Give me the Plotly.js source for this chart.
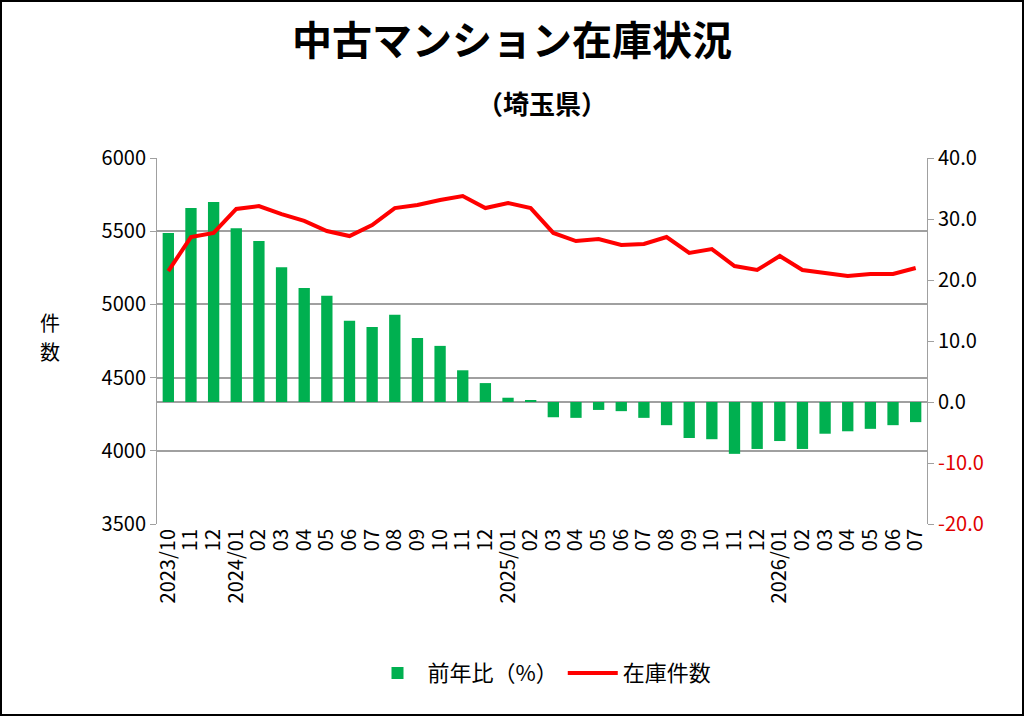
<!DOCTYPE html>
<html>
<head>
<meta charset="utf-8">
<script src="https://cdn.plot.ly/plotly-3.0.1.min.js"></script>
<style>
  html, body { margin: 0; padding: 0; background: #fff; }
  #chart { width: 1024px; height: 716px; box-sizing: border-box; border: 2px solid #000; }
</style>
</head>
<body>
<div id="chart"></div>
<script>
// 月ラベル
const months = ['2023/10','11','12','2024/01','02','03','04','05','06','07','08','09','10','11','12',
  '2025/01','02','03','04','05','06','07','08','09','10','11','12',
  '2026/01','02','03','04','05','06','07'];
const keys = months.map((m, i) => 'm' + i);

// 前年比（%）
const yoy = [27.7, 31.8, 32.8, 28.5, 26.4, 22.1, 18.7, 17.4, 13.3, 12.3, 14.3, 10.5, 9.2, 5.2, 3.1,
  0.7, 0.2, -2.5, -2.6, -1.3, -1.5, -2.6, -3.8, -5.9, -6.1, -8.5, -7.7,
  -6.4, -7.7, -5.2, -4.8, -4.4, -3.8, -3.3];

// 在庫件数
const stock = [5228, 5460, 5488, 5652, 5672, 5617, 5570, 5501, 5467, 5542, 5658, 5679, 5713, 5740, 5658,
  5693, 5658, 5488, 5433, 5447, 5406, 5413, 5460, 5351, 5378, 5262, 5235,
  5331, 5235, 5215, 5194, 5208, 5208, 5249];

const rightVals = [40, 30, 20, 10, 0, -10, -20];
const rightText = rightVals.map(v => v < 0
  ? `<span style="color:#e00000">${v.toFixed(1)}</span>` : v.toFixed(1));

const font = 'Noto Sans CJK JP, Noto Sans, sans-serif';

const traces = [
  {
    type: 'bar', name: '前年比（%）', x: keys, y: yoy, yaxis: 'y',
    marker: { color: '#00b050' }, width: 0.5
  },
  {
    type: 'scatter', mode: 'lines', name: '在庫件数', x: keys, y: stock, yaxis: 'y2',
    line: { color: '#ff0000', width: 4 }
  }
];

const layout = {
  width: 1020, height: 712,
  margin: { l: 155, r: 95, t: 156, b: 190 },
  paper_bgcolor: '#fff', plot_bgcolor: '#fff',
  font: { family: font, size: 20, color: '#000' },
  title: { text: '<b>中古マンション在庫状況</b>', x: 0.5, y: 0.965, yanchor: 'top', font: { size: 40, family: font } },
  annotations: [
    { text: '<b>（埼玉県）</b>', xref: 'paper', yref: 'paper', x: 0.5, y: 1.208, showarrow: false, font: { size: 26 } },
    { text: '件', xref: 'paper', yref: 'paper', x: -0.155, y: 0.55, showarrow: false, font: { size: 20 } },
    { text: '数', xref: 'paper', yref: 'paper', x: -0.155, y: 0.47, showarrow: false, font: { size: 20 } }
  ],
  showlegend: true,
  legend: { orientation: 'h', x: 0.5, xanchor: 'center', y: -0.35, yanchor: 'top', font: { size: 22 }, itemwidth: 50 },
  xaxis: {
    type: 'category', tickvals: keys, ticktext: months, tickangle: -90,
    showline: false, ticks: '', tickfont: { size: 20 }
  },
  yaxis: {
    side: 'right', range: [-20, 40], tickvals: rightVals, ticktext: rightText,
    showgrid: false, zeroline: true, zerolinecolor: '#a0a0a0', zerolinewidth: 1.5,
    showline: true, linecolor: '#a0a0a0', ticks: 'outside', ticklen: 6, tickcolor: '#a0a0a0',
    tickfont: { size: 20 }
  },
  yaxis2: {
    overlaying: 'y', side: 'left', range: [3500, 6000], dtick: 500,
    showgrid: true, gridcolor: '#a0a0a0', gridwidth: 1.5, zeroline: false,
    showline: true, linecolor: '#a0a0a0', ticks: 'outside', ticklen: 6, tickcolor: '#a0a0a0',
    tickfont: { size: 20 }
  }
};

Plotly.newPlot('chart', traces, layout, { displayModeBar: false });
</script>
</body>
</html>
